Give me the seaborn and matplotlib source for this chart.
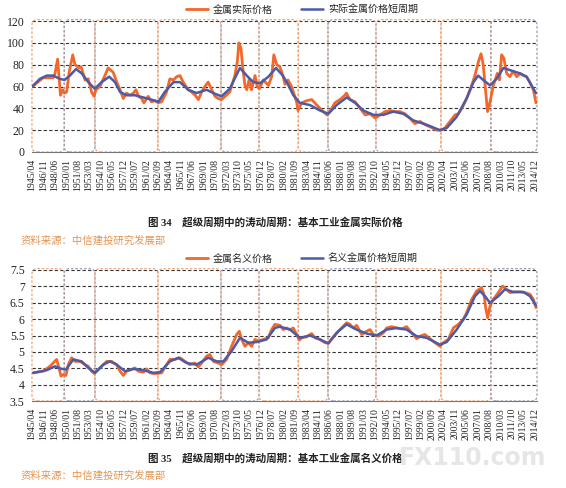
import matplotlib
matplotlib.use("Agg")
import matplotlib.pyplot as plt
import matplotlib.transforms as mtransforms
from matplotlib.patches import FancyBboxPatch
import seaborn as sns
import pandas as pd

sns.set_style("white")
plt.rcParams['font.family'] = ['Liberation Serif', 'Noto Sans CJK SC', 'DejaVu Sans']

# x tick labels (every 19 months)
tick_labels = ['1945/04', '1946/11', '1948/06', '1950/01', '1951/08', '1953/03', '1954/10',
               '1956/05', '1957/12', '1959/07', '1961/02', '1962/09', '1964/04', '1965/11',
               '1967/06', '1969/01', '1970/08', '1972/03', '1973/10', '1975/05', '1976/12',
               '1978/07', '1980/02', '1981/09', '1983/04', '1984/11', '1986/06', '1988/01',
               '1989/08', '1991/03', '1992/10', '1994/05', '1995/12', '1997/07', '1999/02',
               '2000/09', '2002/04', '2003/11', '2005/06', '2007/01', '2008/08', '2010/03',
               '2011/10', '2013/05', '2014/12']

# oscillation cycle boundaries (decimal years) and box colour kind
cycle_edges = [1945.25, 1949.72, 1953.98, 1962.7, 1971.43, 1976.7, 1982.13,
               1986.25, 1992.9, 2001.9, 2008.82, 2015.2]
cycle_kind = ['o', 'g', 'o', 'o', 'g', 'o', 'o', 'g', 'o', 'o', 'g']

# real metal price
real_years = [1945.3, 1946.8, 1948.2, 1948.45, 1948.8, 1949.2, 1949.5, 1949.75, 1950.05, 1950.4,
              1950.9, 1951.2, 1951.8, 1952.05, 1952.6, 1953.05, 1953.5, 1953.85, 1954.1, 1954.65,
              1955.35, 1955.8, 1956.15, 1956.5, 1957.0, 1957.45, 1957.9, 1958.35, 1958.8, 1959.3,
              1959.65, 1960.0, 1960.45, 1960.75, 1961.35, 1961.8, 1962.3, 1962.75, 1963.2, 1963.9,
              1964.35, 1964.85, 1965.3, 1965.75, 1966.2, 1966.9, 1967.35, 1967.85, 1968.3, 1968.75,
              1969.2, 1969.65, 1970.15, 1970.6, 1971.05, 1971.5, 1972.0, 1972.65, 1973.35, 1973.7,
              1973.9, 1974.2, 1974.45, 1974.75, 1975.0, 1975.35, 1975.65, 1976.15, 1976.45, 1976.75,
              1977.3, 1978.0, 1978.45, 1978.75, 1979.15, 1979.6, 1980.0, 1980.3, 1980.7, 1981.2,
              1981.9, 1982.1, 1982.6, 1983.3, 1984.0, 1984.7, 1985.6, 1986.1, 1986.5, 1987.2,
              1987.9, 1988.6, 1988.8, 1989.3, 1990.0, 1990.7, 1991.4, 1992.1, 1992.8, 1993.45,
              1994.15, 1994.85, 1995.5, 1996.2, 1996.9, 1997.6, 1998.3, 1999.0, 1999.7, 2000.4,
              2001.3, 2001.9, 2002.45, 2003.15, 2003.85, 2004.3, 2004.8, 2005.45, 2006.15, 2006.6,
              2007.1, 2007.45, 2007.75, 2008.1, 2008.35, 2008.7, 2009.15, 2009.7, 2010.0, 2010.3,
              2010.6, 2011.0, 2011.45, 2011.9, 2012.4, 2012.85, 2013.3, 2013.75, 2014.2, 2014.7,
              2015.05]
real_price = [60, 68, 68, 72, 85, 52, 57, 54, 55, 73,
              89, 80, 77, 78, 66, 67, 55, 51, 57, 60,
              70, 77, 75, 73, 64, 57, 49, 54, 52, 54,
              57, 51, 49, 45, 51, 46, 47, 45, 46, 55,
              67, 66, 69, 70, 64, 57, 55, 52, 48, 55,
              60, 64, 57, 51, 49, 48, 51, 55, 70, 83,
              100, 95, 77, 61, 57, 67, 57, 70, 60, 58,
              66, 61, 69, 89, 80, 78, 70, 62, 66, 60,
              46, 38, 45, 47, 48, 43, 37, 34, 37, 45,
              48, 52, 54, 48, 46, 40, 34, 35, 31, 34,
              37, 38, 37, 37, 35, 31, 26, 28, 25, 23,
              20, 20, 22, 28, 34, 35, 40, 49, 61, 70,
              83, 90, 80, 55, 37, 46, 61, 72, 66, 89,
              86, 72, 69, 74, 69, 72, 70, 69, 64, 57,
              45]

# real metal price short cycle
real_cyc_years = [1945.3, 1946.35, 1947.3, 1948.2, 1949.1, 1949.75, 1950.5, 1951.35, 1952.15, 1953.05,
                  1953.95, 1954.9, 1955.95, 1956.75, 1957.45, 1958.35, 1959.5, 1960.65, 1961.8, 1962.75,
                  1963.65, 1964.85, 1965.75, 1966.9, 1968.05, 1969.45, 1970.35, 1971.5, 1972.65, 1974.05,
                  1975.0, 1975.9, 1976.85, 1978.0, 1979.05, 1980.0, 1980.7, 1981.45, 1982.35, 1983.75,
                  1985.15, 1986.3, 1987.45, 1988.85, 1990.0, 1991.15, 1992.55, 1993.9, 1995.3, 1996.7,
                  1998.05, 1999.9, 2001.75, 2002.7, 2004.05, 2005.45, 2006.4, 2007.05, 2007.75, 2008.7,
                  2009.6, 2010.55, 2011.45, 2012.85, 2013.75, 2014.7, 2015.05]
real_cycle = [60, 67, 70, 70, 67, 66, 70, 76, 72, 64,
              58, 64, 69, 64, 55, 52, 52, 50, 48, 46,
              55, 64, 64, 57, 54, 57, 54, 51, 58, 77,
              70, 64, 63, 69, 77, 70, 62, 52, 45, 43,
              38, 35, 43, 50, 45, 38, 34, 34, 37, 35,
              29, 25, 20, 22, 32, 49, 64, 70, 66, 61,
              67, 77, 75, 72, 69, 58, 54]

# nominal metal price (log scale values)
nom_years = [1945.43, 1946.82, 1947.74, 1948.67, 1949.04, 1949.27, 1949.59, 1949.96, 1950.28, 1950.74,
             1951.21, 1951.9, 1952.59, 1953.05, 1953.51, 1953.88, 1954.44, 1955.13, 1955.59, 1956.28,
             1956.98, 1957.44, 1957.9, 1958.36, 1959.05, 1959.52, 1959.98, 1960.67, 1961.13, 1961.59,
             1962.05, 1962.61, 1963.21, 1963.9, 1964.36, 1965.06, 1965.75, 1966.44, 1967.13, 1967.83,
             1968.29, 1968.75, 1969.44, 1969.9, 1970.37, 1971.06, 1971.52, 1972.21, 1972.9, 1973.6,
             1973.97, 1974.29, 1974.75, 1975.21, 1975.67, 1976.14, 1976.6, 1977.29, 1977.98, 1978.44,
             1978.9, 1979.6, 1980.06, 1980.52, 1980.99, 1981.45, 1981.91, 1982.28, 1982.6, 1983.29,
             1983.99, 1984.45, 1985.14, 1985.83, 1986.29, 1986.76, 1987.45, 1988.14, 1988.83, 1989.3,
             1989.76, 1990.22, 1990.91, 1991.6, 1992.07, 1992.53, 1993.22, 1993.91, 1994.37, 1995.07,
             1995.76, 1996.45, 1997.14, 1997.84, 1998.53, 1999.22, 1999.68, 2000.38, 2001.07, 2001.76,
             2002.22, 2002.91, 2003.61, 2004.3, 2004.99, 2005.45, 2006.15, 2006.84, 2007.53, 2007.85,
             2008.13, 2008.36, 2008.69, 2009.15, 2009.84, 2010.44, 2010.99, 2011.46, 2012.15, 2012.84,
             2013.53, 2014.23, 2014.69, 2015.06]
nom_price = [4.36, 4.41, 4.56, 4.77, 4.46, 4.26, 4.31, 4.28, 4.61, 4.82,
             4.71, 4.71, 4.61, 4.56, 4.41, 4.34, 4.46, 4.61, 4.71, 4.71,
             4.61, 4.41, 4.28, 4.41, 4.46, 4.51, 4.41, 4.38, 4.48, 4.36,
             4.34, 4.34, 4.36, 4.61, 4.77, 4.77, 4.82, 4.71, 4.61, 4.66,
             4.54, 4.66, 4.87, 4.92, 4.71, 4.66, 4.61, 4.77, 5.17, 5.53,
             5.63, 5.38, 5.17, 5.28, 5.17, 5.38, 5.33, 5.38, 5.43, 5.68,
             5.84, 5.81, 5.68, 5.73, 5.68, 5.73, 5.53, 5.36, 5.43, 5.46,
             5.56, 5.43, 5.38, 5.28, 5.26, 5.40, 5.58, 5.73, 5.89, 5.84,
             5.73, 5.81, 5.53, 5.63, 5.68, 5.53, 5.48, 5.58, 5.73, 5.77,
             5.73, 5.70, 5.77, 5.58, 5.40, 5.50, 5.53, 5.40, 5.28, 5.17,
             5.28, 5.38, 5.73, 5.84, 5.99, 6.19, 6.60, 6.86, 6.96, 6.76,
             6.30, 6.04, 6.40, 6.60, 6.81, 7.01, 6.91, 6.81, 6.83, 6.83,
             6.81, 6.76, 6.60, 6.35]

# nominal metal price short cycle
nom_cyc_years = [1945.43, 1947.28, 1948.44, 1949.36, 1949.96, 1950.97, 1952.13, 1953.05, 1953.98, 1955.13,
                 1956.05, 1956.98, 1958.13, 1959.28, 1960.67, 1962.05, 1962.98, 1964.36, 1965.52, 1966.67,
                 1968.06, 1969.67, 1970.83, 1971.75, 1972.9, 1974.06, 1975.21, 1976.37, 1977.75, 1978.9,
                 1979.6, 1980.99, 1982.37, 1983.76, 1985.14, 1986.3, 1987.68, 1988.83, 1990.22, 1991.6,
                 1992.99, 1994.37, 1995.76, 1997.14, 1998.53, 1999.91, 2001.76, 2002.68, 2004.07, 2005.45,
                 2006.61, 2007.3, 2007.99, 2008.69, 2009.84, 2010.76, 2011.92, 2013.3, 2014.23, 2015.06]
nom_cycle = [4.36, 4.44, 4.56, 4.48, 4.46, 4.77, 4.71, 4.51, 4.36, 4.61,
             4.71, 4.61, 4.41, 4.48, 4.44, 4.36, 4.38, 4.71, 4.82, 4.66,
             4.61, 4.82, 4.71, 4.71, 5.02, 5.43, 5.28, 5.30, 5.38, 5.73,
             5.77, 5.68, 5.43, 5.50, 5.38, 5.26, 5.63, 5.84, 5.68, 5.56,
             5.50, 5.68, 5.73, 5.68, 5.48, 5.43, 5.22, 5.30, 5.68, 6.14,
             6.70, 6.86, 6.70, 6.50, 6.70, 6.91, 6.83, 6.83, 6.70, 6.42]

ORANGE = '#F2672A'
BLUE = '#4D5AA6'
BOX_COLORS = {'o': '#F0A474', 'g': '#9A9AB0'}

tick_pos = [int(t[:4]) + (int(t[5:]) - 1) / 12 for t in tick_labels]


def draw_panel(ax, years, price, cyc_years, cycle, price_label, cycle_label, ylim, yticks):
    price_df = pd.DataFrame({'year': years, 'value': price})
    cycle_df = pd.DataFrame({'year': cyc_years, 'value': cycle})

    sns.lineplot(data=price_df, x='year', y='value', ax=ax, color=ORANGE, lw=2.0,
                 label=price_label, zorder=3)
    sns.lineplot(data=cycle_df, x='year', y='value', ax=ax, color=BLUE, lw=1.8,
                 label=cycle_label, zorder=4)

    ax.set_xlim(1945.2, 2015.2)
    ax.set_ylim(*ylim)
    ax.set_yticks(yticks)
    ax.set_yticklabels([f'{v:g}' for v in yticks])
    ax.set_xticks(tick_pos)
    ax.set_xticklabels(tick_labels, rotation=90)
    ax.set_xlabel('')
    ax.set_ylabel('')

    for yv in yticks[1:]:
        ax.axhline(yv, color='#333333', lw=0.8, ls=(0, (3, 2)), zorder=1)

    for s in ['top', 'right', 'left']:
        ax.spines[s].set_visible(False)
    ax.spines['bottom'].set_color('#777777')
    ax.spines['bottom'].set_linewidth(0.8)
    ax.tick_params(axis='x', direction='out', length=3, width=0.7, color='#777777',
                   labelsize=7, pad=2, labelcolor='#222222')
    ax.tick_params(axis='y', length=0, labelsize=8.5, pad=5, labelcolor='#222222')

    # rounded dashed boxes marking the oscillation cycles
    trans = mtransforms.blended_transform_factory(ax.transData, ax.transAxes)
    for x0, x1, kind in zip(cycle_edges[:-1], cycle_edges[1:], cycle_kind):
        box = FancyBboxPatch((x0, 0), x1 - x0, 1.01, boxstyle='round,pad=0,rounding_size=0.75',
                             mutation_aspect=0.055, transform=trans, fill=False,
                             edgecolor=BOX_COLORS[kind], lw=0.9, ls=(0, (2, 1.5)),
                             clip_on=False, zorder=2)
        ax.add_patch(box)

    ax.legend(loc='center', bbox_to_anchor=(0.535, 1.085), ncol=2, frameon=False,
              fontsize=7.2, handlelength=2.2, handletextpad=0.5, columnspacing=2.8)


fig = plt.figure(figsize=(5.66, 4.88), dpi=100)
ax1 = fig.add_axes([31.6 / 566, 1 - 152 / 488, 505.4 / 566, 131 / 488])
ax2 = fig.add_axes([31.6 / 566, 1 - 401 / 488, 505.4 / 566, 131 / 488])

draw_panel(ax1, real_years, real_price, real_cyc_years, real_cycle,
           '金属实际价格', '实际金属价格短周期', (0, 120), [0, 20, 40, 60, 80, 100, 120])
draw_panel(ax2, nom_years, nom_price, nom_cyc_years, nom_cycle,
           '金属名义价格', '名义金属价格短周期', (3.5, 7.5), [3.5, 4, 4.5, 5, 5.5, 6, 6.5, 7, 7.5])

fig.text(0.487, 1 - 222 / 488, '图 34    超级周期中的涛动周期：基本工业金属实际价格',
         ha='center', va='center', fontsize=7.6, fontweight='bold', color='#222222')
fig.text(0.036, 1 - 241 / 488, '资料来源：中信建投研究发展部', ha='left', va='center',
         fontsize=7.5, color='#E39450')
fig.text(0.487, 1 - 458 / 488, '图 35    超级周期中的涛动周期：基本工业金属名义价格',
         ha='center', va='center', fontsize=7.6, fontweight='bold', color='#222222')
fig.text(0.036, 1 - 476 / 488, '资料来源：中信建投研究发展部', ha='left', va='center',
         fontsize=7.5, color='#E39450')
fig.text(0.965, 1 - 458 / 488, 'FX110.com', ha='right', va='center', fontsize=17,
         fontweight='bold', color='#E6E6E6', family='DejaVu Sans')

plt.savefig('out.png', dpi=100)
